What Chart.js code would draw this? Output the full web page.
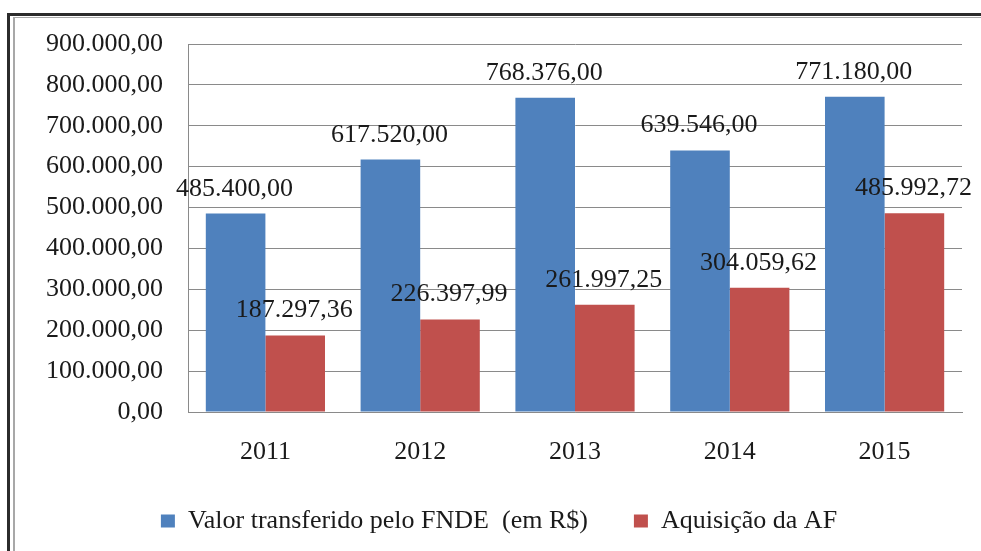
<!DOCTYPE html>
<html>
<head>
<meta charset="utf-8">
<script src="https://cdn.jsdelivr.net/npm/chart.js@4"></script>
<style>
  html, body { margin: 0; padding: 0; background: #fff; }
  #wrap { position: relative; width: 981px; height: 551px; overflow: hidden; background: #fff; }
  canvas { position: absolute; left: 0; top: 0; }
  .b { position: absolute; pointer-events: none; }
</style>
</head>
<body>
<div id="wrap">
  <canvas id="c" width="981" height="551"></canvas>
  <div class="b" style="left:7px; top:13px; width:974px; height:3px; background:#2b2b2b;"></div>
  <div class="b" style="left:7px; top:13px; width:3px; height:538px; background:#2b2b2b;"></div>
  <div class="b" style="left:13px; top:17px; width:968px; height:1px; background:#a8a8a8;"></div>
  <div class="b" style="left:13px; top:17px; width:2px; height:534px; background:#a8a8a8;"></div>
</div>
<script>
const categories = ['2011', '2012', '2013', '2014', '2015'];
const valorFNDE = [485400.00, 617520.00, 768376.00, 639546.00, 771180.00];
const aquisicaoAF = [187297.36, 226397.99, 261997.25, 304059.62, 485992.72];
const seriesNames = ['Valor transferido pelo FNDE  (em R$)', 'Aquisição da AF'];
const yTicks = [0, 100000, 200000, 300000, 400000, 500000, 600000, 700000, 800000, 900000];

function fmtBR(v) {
  const neg = v < 0;
  const fixed = Math.abs(v).toFixed(2);
  const parts = fixed.split('.');
  const intPart = parts[0].replace(/\B(?=(\d{3})+(?!\d))/g, '.');
  return (neg ? '-' : '') + intPart + ',' + parts[1];
}

const FONT = "'Liberation Serif', 'Times New Roman', serif";
const TEXT = '#1a1a1a';
const GRID = '#8a8a8a';

const valueLabels = {
  id: 'valueLabels',
  afterDatasetsDraw(chart) {
    const ctx = chart.ctx;
    ctx.save();
    ctx.font = '26px ' + FONT;
    ctx.fillStyle = TEXT;
    ctx.textAlign = 'center';
    ctx.textBaseline = 'alphabetic';
    chart.data.datasets.forEach((ds, di) => {
      const meta = chart.getDatasetMeta(di);
      meta.data.forEach((el, i) => {
        ctx.fillText(fmtBR(ds.data[i]), el.x - 1, el.y - 18);
      });
    });
    ctx.restore();
  }
};

new Chart(document.getElementById('c'), {
  type: 'bar',
  data: {
    labels: categories,
    datasets: [
      { label: seriesNames[0], data: valorFNDE, backgroundColor: '#4F81BD', borderWidth: 0 },
      { label: seriesNames[1], data: aquisicaoAF, backgroundColor: '#C0504D', borderWidth: 0 }
    ]
  },
  options: {
    responsive: false,
    devicePixelRatio: 1,
    animation: false,
    datasets: { bar: { categoryPercentage: 0.77, barPercentage: 1.0 } },
    layout: { padding: { left: 36, right: 19, top: 44, bottom: 7 } },
    plugins: {
      tooltip: { enabled: false },
      legend: {
        position: 'bottom',
        labels: {
          font: { family: FONT, size: 26 },
          color: TEXT,
          boxWidth: 14,
          boxHeight: 13,
          padding: 46
        }
      }
    },
    scales: {
      x: {
        grid: { display: false, drawTicks: false },
        border: { display: true, color: GRID, width: 1 },
        ticks: { font: { family: FONT, size: 26, lineHeight: 1 }, color: TEXT, padding: 27, maxRotation: 0 },
        afterFit(scale) { scale.height = 50; }
      },
      y: {
        min: 0,
        max: 900000,
        afterBuildTicks(scale) { scale.ticks = yTicks.map(v => ({ value: v })); },
        grid: { color: GRID, lineWidth: 1, drawTicks: false },
        border: { display: true, color: GRID, width: 1 },
        ticks: {
          font: { family: FONT, size: 26 },
          color: TEXT,
          padding: 25,
          callback: (v) => fmtBR(v)
        },
        afterFit(scale) { scale.width = 152; }
      }
    }
  },
  plugins: [valueLabels]
});
</script>
</body>
</html>
